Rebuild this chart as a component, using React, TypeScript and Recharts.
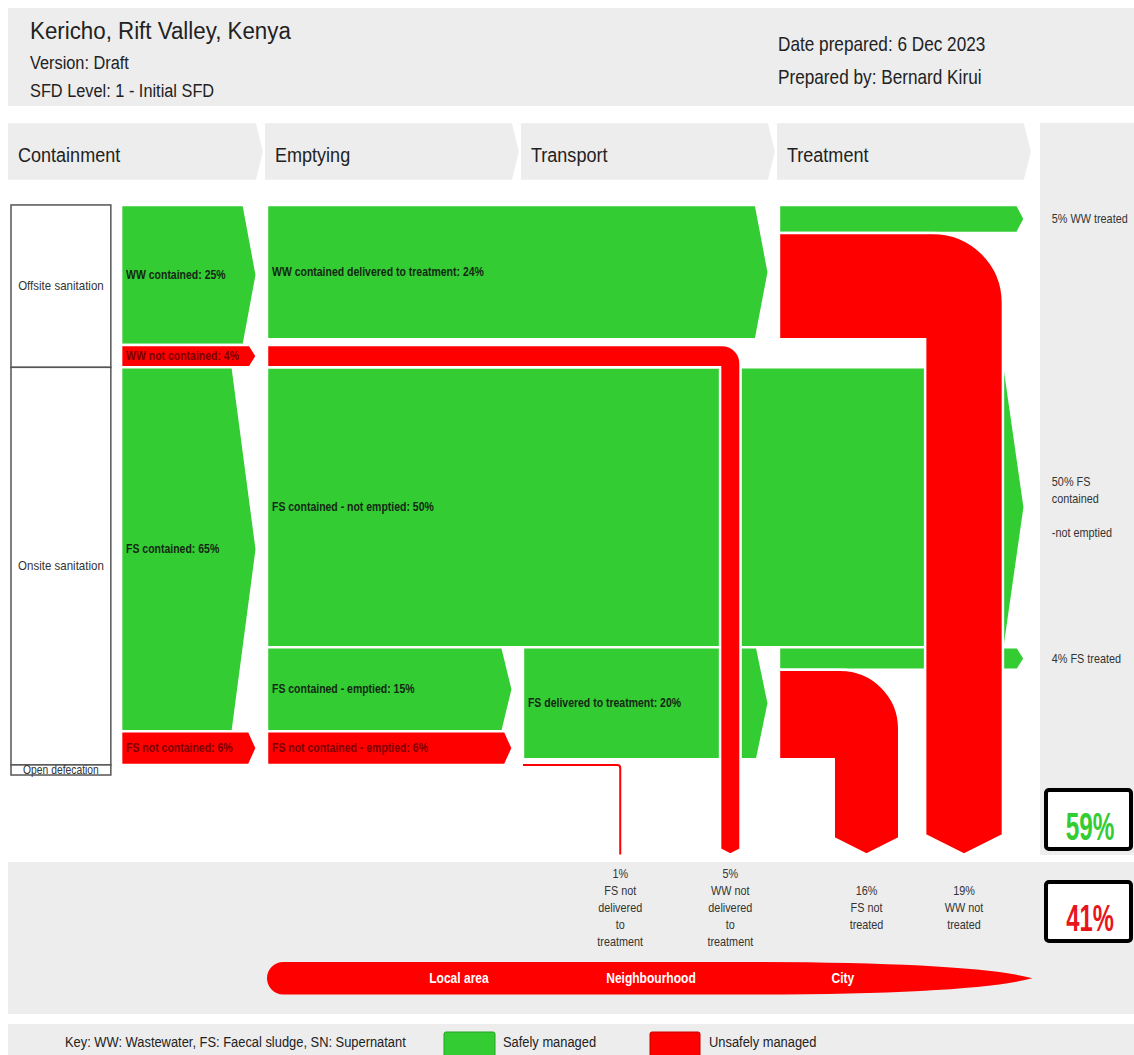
import React from 'react'
import { ComposedChart, XAxis, YAxis, ReferenceArea, Scatter } from 'recharts'

const W = 1134
const H = 1055
const GREEN = '#33cc33'
const RED = '#ff0000'
const GREY = '#ededed'
const FONT = "'Liberation Sans', Arial, Helvetica, sans-serif"
const SX = 0.86 // the source text is a little condensed

// ---- data (shares of population, %) ----
const stages = ['Containment', 'Emptying', 'Transport', 'Treatment']
const systemLabels = ['Offsite sanitation', 'Onsite sanitation', 'Open defecation']
const systemValues = [29, 71, 0]
const containmentLabels = ['WW contained', 'WW not contained', 'FS contained', 'FS not contained']
const containmentValues = [25, 4, 65, 6]
const containmentSafe = [true, false, true, false]
const emptyingLabels = [
  'WW contained delivered to treatment',
  'FS contained - not emptied',
  'FS contained - emptied',
  'FS not contained - emptied',
]
const emptyingValues = [24, 50, 15, 6]
const transportLabels = ['FS delivered to treatment']
const transportValues = [20]
const treatmentLabels = ['WW treated', 'FS treated']
const treatmentValues = [5, 4]
const lossLabels = ['FS not delivered to treatment', 'WW not delivered to treatment', 'FS not treated', 'WW not treated']
const lossValues = [1, 5, 16, 19]
const outcomeLabels = ['Safely managed', 'Unsafely managed']
const outcomeValues = [59, 41]
const scaleLabels = ['Local area', 'Neighbourhood', 'City']

// ---- layout (x: one unit per stage column, Emptying starts at 1; y: % of population) ----
const X_DOMAIN = [-0.043, 4.387]
const Y_DOMAIN = [-36.6, 151.8]
const LABEL_COL = [0, 0.39]
const CONT_X0 = 0.43
const TIP_GAP = 0.04
const HEADER_Y = [-14.6, -4.5]
const PIPE_X = [2.38, 2.81, 3.342, 3.723]
const PIPE_W = 0.016 // stage units per %
const PIPE_END = 116
const LOSS_LABEL_Y = 125.5
const OUTCOME_X = 4.066
const LENS_X = [1, 3.99]
const LENS_Y = [135.2, 141]
const SCALE_X = [1.75, 2.5, 3.25]

const cum = (vals: number[]) => vals.map((_, i) => vals.slice(0, i).reduce((a, b) => a + b, 0))
const contStart = cum(containmentValues)
const sysStart = cum(systemValues)
const fsTop = contStart[2]
const emptiedTop = fsTop + emptyingValues[1]

type Block = { text?: string; x1: number; x2: number; y1: number; y2: number; safe: boolean }

const blocks: Block[] = [
  ...containmentLabels.map((l, i) => ({
    text: `${l}: ${containmentValues[i]}%`,
    x1: CONT_X0,
    x2: 1 - TIP_GAP,
    y1: contStart[i],
    y2: contStart[i] + containmentValues[i],
    safe: containmentSafe[i],
  })),
  { text: `${emptyingLabels[0]}: ${emptyingValues[0]}%`, x1: 1, x2: 3 - TIP_GAP, y1: 0, y2: emptyingValues[0], safe: true },
  { text: `${emptyingLabels[1]}: ${emptyingValues[1]}%`, x1: 1, x2: 4 - TIP_GAP, y1: fsTop, y2: emptiedTop, safe: true },
  { text: `${emptyingLabels[2]}: ${emptyingValues[2]}%`, x1: 1, x2: 2 - TIP_GAP, y1: emptiedTop, y2: emptiedTop + emptyingValues[2], safe: true },
  { text: `${emptyingLabels[3]}: ${emptyingValues[3]}%`, x1: 1, x2: 2 - TIP_GAP, y1: contStart[3], y2: contStart[3] + emptyingValues[3], safe: false },
  { text: `${transportLabels[0]}: ${transportValues[0]}%`, x1: 2, x2: 3 - TIP_GAP, y1: emptiedTop, y2: emptiedTop + transportValues[0], safe: true },
  { x1: 3, x2: 4 - TIP_GAP, y1: 0, y2: treatmentValues[0], safe: true },
  { x1: 3, x2: 4 - TIP_GAP, y1: emptiedTop, y2: emptiedTop + treatmentValues[1], safe: true },
]

// unsafe flows that leave the chain: lane they run in, then drop at PIPE_X
const pipes = [
  { i: 1, x0: 1, y1: contStart[1], y2: contStart[1] + containmentValues[1] },
  { i: 2, x0: 3, y1: emptiedTop + treatmentValues[1], y2: emptiedTop + transportValues[0] },
  { i: 3, x0: 3, y1: treatmentValues[0], y2: emptyingValues[0] },
]

const wrap = (s: string, max = 9) => {
  const out: string[] = []
  s.split(' ').forEach((w) => {
    const last = out[out.length - 1]
    if (last !== undefined && (last + ' ' + w).length <= max) out[out.length - 1] = last + ' ' + w
    else out.push(w)
  })
  return out
}

const lossPoints = lossLabels.map((l, i) => ({ x: PIPE_X[i], y: LOSS_LABEL_Y, lines: [`${lossValues[i]}%`, ...wrap(l)] }))

const outcomePoints = [
  { x: OUTCOME_X, y: treatmentValues[0] / 2, lines: [`${treatmentValues[0]}% ${treatmentLabels[0]}`] },
  { x: OUTCOME_X, y: (fsTop + emptiedTop) / 2, lines: [`${emptyingValues[1]}% FS`, 'contained', '', '-not emptied'] },
  { x: OUTCOME_X, y: emptiedTop + treatmentValues[1] / 2, lines: [`${treatmentValues[1]}% ${treatmentLabels[1]}`] },
]

function Txt({ x, y, size, children, fill = '#222', weight = 'normal', anchor = 'start', sx = SX }: any) {
  return (
    <text
      transform={`translate(${x} ${y}) scale(${sx} 1)`}
      fontSize={size}
      fontWeight={weight}
      fill={fill}
      textAnchor={anchor}
      fontFamily={FONT}
    >
      {children}
    </text>
  )
}

function Arrow({ x, y, width, height, color, text, dark }: any) {
  const tip = Math.min(6 + height * 0.05, 24)
  const pts = [
    [x, y],
    [x + width - tip, y],
    [x + width, y + height / 2],
    [x + width - tip, y + height],
    [x, y + height],
  ]
    .map((p) => p.join(','))
    .join(' ')
  return (
    <g>
      <polygon points={pts} fill={color} stroke="#fff" strokeWidth={2.5} />
      {text && (
        <Txt x={x + 5} y={y + height / 2 + 4} size={12.2} weight="bold" fill={dark}>
          {text}
        </Txt>
      )}
    </g>
  )
}

function Pipe({ x, y, width, height, fx, fy }: any) {
  const x1 = x + fx * width
  const x2 = x + width
  const y1 = y + fy * height
  const y2 = y + height
  const pw = x2 - x1
  const r = pw * 0.9
  const tip = pw * 0.25
  const d = `M${x},${y} L${x2 - r},${y} A${r},${r} 0 0 1 ${x2},${y + r} L${x2},${y2 - tip} L${(x1 + x2) / 2},${y2} L${x1},${y2 - tip} L${x1},${y1} L${x},${y1} Z`
  return <path d={d} fill={RED} stroke="#fff" strokeWidth={2.5} />
}

function Thin({ x, y, width, height }: any) {
  return (
    <path
      d={`M${x},${y} L${x + width - 3},${y} Q${x + width},${y} ${x + width},${y + 3} L${x + width},${y + height}`}
      fill="none"
      stroke={RED}
      strokeWidth={2}
    />
  )
}

function SystemBox({ x, y, width, height, text, small }: any) {
  return (
    <g>
      <rect x={x} y={y} width={width} height={height} fill="#fff" stroke="#555" strokeWidth={1.5} />
      <Txt x={x + width / 2} y={small ? y + height - 1 : y + height / 2 + 4} size={small ? 12 : 13.4} anchor="middle" fill="#333">
        {text}
      </Txt>
    </g>
  )
}

function Header({ x, y, width, height, text }: any) {
  const tip = 7
  const pts = `${x},${y} ${x + width - tip},${y} ${x + width},${y + height / 2} ${x + width - tip},${y + height} ${x},${y + height}`
  return (
    <g>
      <polygon points={pts} fill={GREY} />
      <Txt x={x + 10} y={y + height * 0.68} size={21}>
        {text}
      </Txt>
    </g>
  )
}

function Lens({ x, y, width, height, labels, fracs }: any) {
  const r = height / 2
  const cy = y + r
  const d = `M${x + r},${y} L${x + width * 0.62},${y} Q${x + width * 0.92},${y} ${x + width},${cy} Q${x + width * 0.92},${y + height} ${x + width * 0.62},${y + height} L${x + r},${y + height} A${r},${r} 0 0 1 ${x + r},${y} Z`
  return (
    <g>
      <path d={d} fill={RED} />
      {labels.map((l: string, i: number) => (
        <Txt key={l} x={x + fracs[i] * width} y={cy + 5} size={14} weight="bold" anchor="middle" fill="#fff">
          {l}
        </Txt>
      ))}
    </g>
  )
}

function MultiLine({ cx, cy, payload, anchor, lh }: any) {
  const lines: string[] = payload.lines
  const y0 = cy - ((lines.length - 1) * lh) / 2 + 4
  return (
    <g>
      {lines.map((l, i) => (
        <Txt key={i} x={cx} y={y0 + i * lh} size={12.6} anchor={anchor} fill="#333">
          {l}
        </Txt>
      ))}
    </g>
  )
}

function Background() {
  return (
    <svg width={W} height={H} style={{ position: 'absolute', left: 0, top: 0 }}>
      <rect x={8} y={8} width={1126} height={98} fill={GREY} />
      <Txt x={30} y={39} size={23.5} sx={0.95}>Kericho, Rift Valley, Kenya</Txt>
      <Txt x={30} y={69} size={19}>Version: Draft</Txt>
      <Txt x={30} y={97} size={19}>SFD Level: 1 - Initial SFD</Txt>
      <Txt x={778} y={51} size={20}>Date prepared: 6 Dec 2023</Txt>
      <Txt x={778} y={84} size={20}>Prepared by: Bernard Kirui</Txt>

      <rect x={1040} y={123} width={94} height={732} fill={GREY} />
      <rect x={8} y={862} width={1126} height={152} fill={GREY} />

      <rect x={1046} y={790} width={85} height={59} rx={3} fill="#fff" stroke="#000" strokeWidth={4} />
      <Txt x={1090} y={840} size={38} sx={0.64} weight="bold" anchor="middle" fill={GREEN}>{`${outcomeValues[0]}%`}</Txt>
      <rect x={1046} y={882} width={85} height={59} rx={3} fill="#fff" stroke="#000" strokeWidth={4} />
      <Txt x={1090} y={931} size={36} sx={0.66} weight="bold" anchor="middle" fill="#e8151b">{`${outcomeValues[1]}%`}</Txt>

      <rect x={8} y={1024} width={1126} height={31} fill={GREY} />
      <Txt x={65} y={1047} size={15}>Key: WW: Wastewater, FS: Faecal sludge, SN: Supernatant</Txt>
      <rect x={444} y={1032} width={51} height={26} fill={GREEN} stroke="#27a327" strokeWidth={1} rx={2} />
      <Txt x={503} y={1047} size={15}>{outcomeLabels[0]}</Txt>
      <rect x={650} y={1032} width={50} height={26} fill={RED} stroke="#c00000" strokeWidth={1} rx={2} />
      <Txt x={709} y={1047} size={15}>{outcomeLabels[1]}</Txt>
    </svg>
  )
}

export default function App() {
  const lensSpan = LENS_X[1] - LENS_X[0]
  return (
    <div style={{ position: 'absolute', left: 0, top: 0, width: W, height: H, background: '#fff', fontFamily: FONT }}>
      <Background />
      <div style={{ position: 'absolute', left: 0, top: 0 }}>
        <ComposedChart width={W} height={H} margin={{ top: 0, right: 0, bottom: 0, left: 0 }}>
          <XAxis type="number" dataKey="x" domain={X_DOMAIN} allowDataOverflow hide />
          <YAxis type="number" dataKey="y" domain={Y_DOMAIN} allowDataOverflow reversed hide />

          {stages.map((s, i) => (
            <ReferenceArea
              key={s}
              x1={i === 0 ? -0.012 : i - 0.008}
              x2={i + 0.984}
              y1={HEADER_Y[0]}
              y2={HEADER_Y[1]}
              shape={(p: any) => <Header {...p} text={s} />}
            />
          ))}

          {systemLabels.map((l, i) => (
            <ReferenceArea
              key={l}
              x1={LABEL_COL[0]}
              x2={LABEL_COL[1]}
              y1={sysStart[i]}
              y2={sysStart[i] + Math.max(systemValues[i], 1.8)}
              shape={(p: any) => <SystemBox {...p} text={l} small={systemValues[i] === 0} />}
            />
          ))}

          {blocks.map((b, i) => (
            <ReferenceArea
              key={i}
              x1={b.x1}
              x2={b.x2}
              y1={b.y1}
              y2={b.y2}
              shape={(p: any) => (
                <Arrow {...p} color={b.safe ? GREEN : RED} dark={b.safe ? '#142814' : '#7a0000'} text={b.text} />
              )}
            />
          ))}

          <ReferenceArea
            x1={2}
            x2={PIPE_X[0]}
            y1={emptiedTop + transportValues[0] + lossValues[0]}
            y2={PIPE_END}
            shape={(p: any) => <Thin {...p} />}
          />

          {pipes.map((pp) => {
            const pw = lossValues[pp.i] * PIPE_W
            const xl = PIPE_X[pp.i] - pw / 2
            const xr = PIPE_X[pp.i] + pw / 2
            const fx = (xl - pp.x0) / (xr - pp.x0)
            const fy = (pp.y2 - pp.y1) / (PIPE_END - pp.y1)
            return (
              <ReferenceArea
                key={pp.i}
                x1={pp.x0}
                x2={xr}
                y1={pp.y1}
                y2={PIPE_END}
                shape={(p: any) => <Pipe {...p} fx={fx} fy={fy} />}
              />
            )
          })}

          <ReferenceArea
            x1={LENS_X[0]}
            x2={LENS_X[1]}
            y1={LENS_Y[0]}
            y2={LENS_Y[1]}
            shape={(p: any) => (
              <Lens {...p} labels={scaleLabels} fracs={SCALE_X.map((v) => (v - LENS_X[0]) / lensSpan)} />
            )}
          />

          <Scatter
            data={lossPoints}
            dataKey="y"
            isAnimationActive={false}
            shape={(p: any) => <MultiLine {...p} anchor="middle" lh={17} />}
          />
          <Scatter
            data={outcomePoints}
            dataKey="y"
            isAnimationActive={false}
            shape={(p: any) => <MultiLine {...p} anchor="start" lh={17} />}
          />
        </ComposedChart>
      </div>
    </div>
  )
}
